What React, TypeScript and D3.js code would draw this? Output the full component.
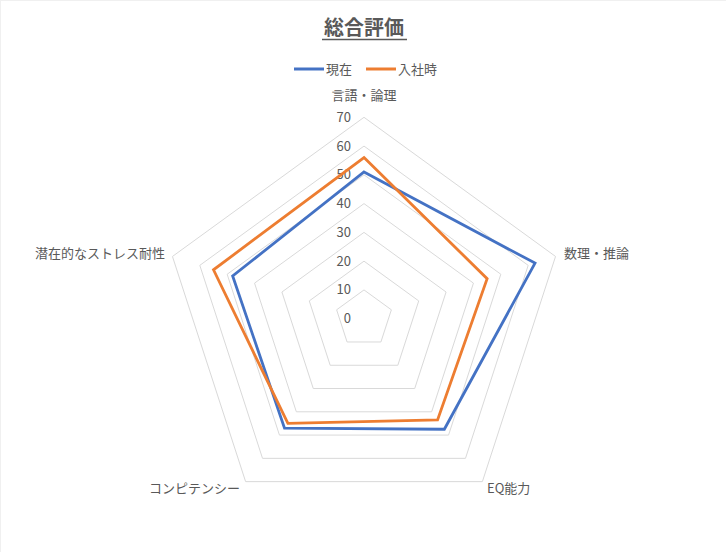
import React from "react";
import * as d3 from "d3";

const categories = ["言語・論理", "数理・推論", "EQ能力", "コンピテンシー", "潜在的なストレス耐性"];
const seriesNames = ["現在", "入社時"];
const currentValues = [51, 62.5, 47.5, 47, 48];
const joinValues = [56, 45, 43.5, 45, 55];
const tickValues = [0, 10, 20, 30, 40, 50, 60, 70];
const colors = ["#4472C4", "#ED7D31"];

const W = 726;
const H = 552;
const cx = 364;
const cy = 318.7;
const R = 201.4;
const FONT = "'Noto Sans CJK JP', 'Noto Sans', sans-serif";
const TEXT = "#595959";

export default function App() {
  const r = d3.scaleLinear().domain([0, 70]).range([0, R]);
  const n = categories.length;
  const angle = (i: number) => (i * 2 * Math.PI) / n;
  const pt = (i: number, v: number): [number, number] => [
    cx + r(v) * Math.sin(angle(i)),
    cy - r(v) * Math.cos(angle(i)),
  ];
  const ringPath = (v: number) =>
    d3.line()(d3.range(n).map((i) => pt(i, v))) + "Z";
  const seriesPath = (vals: number[]) =>
    d3.line()(vals.map((v, i) => pt(i, v))) + "Z";

  const labelPos = [
    { x: cx, y: 100, anchor: "middle" },
    { x: 564, y: 258, anchor: "start" },
    { x: 487, y: 493, anchor: "start" },
    { x: 240, y: 493, anchor: "end" },
    { x: 165, y: 258, anchor: "end" },
  ];

  return (
    <svg
      width={W}
      height={H}
      style={{ position: "absolute", left: 0, top: 0, background: "#fff" }}
      fontFamily={FONT}
    >
      <rect x={0} y={0} width={W} height={H} fill="#fff" />
      <line x1={0} x2={W} y1={0.5} y2={0.5} stroke="#f0f0f0" />
      <line x1={0.5} x2={0.5} y1={0} y2={H} stroke="#f0f0f0" />
      <text x={cx} y={35} textAnchor="middle" fontSize={20} fontWeight="bold" fill={TEXT}>
        総合評価
      </text>
      <line x1={322} x2={407} y1={39.5} y2={39.5} stroke={TEXT} strokeWidth={1.3} />
      {seriesNames.map((s, i) => {
        const x0 = i === 0 ? 294 : 366;
        return (
          <g key={s}>
            <line x1={x0} x2={x0 + 30} y1={69} y2={69} stroke={colors[i]} strokeWidth={3} />
            <text x={x0 + 32} y={73.5} fontSize={13} fill={TEXT}>
              {s}
            </text>
          </g>
        );
      })}
      {tickValues.slice(1).map((t) => (
        <path key={t} d={ringPath(t)} fill="none" stroke="#d9d9d9" strokeWidth={1} />
      ))}
      {tickValues.map((t) => (
        <text
          key={t}
          x={351}
          y={cy - r(t) + 4.5}
          textAnchor="end"
          fontSize={13}
          fill={TEXT}
        >
          {t}
        </text>
      ))}
      {[currentValues, joinValues].map((vals, i) => (
        <path
          key={i}
          d={seriesPath(vals)}
          fill="none"
          stroke={colors[i]}
          strokeWidth={2.8}
          strokeLinejoin="miter"
        />
      ))}
      {categories.map((c, i) => (
        <text
          key={c}
          x={labelPos[i].x}
          y={labelPos[i].y}
          textAnchor={labelPos[i].anchor as any}
          fontSize={13}
          fill={TEXT}
        >
          {c}
        </text>
      ))}
    </svg>
  );
}
